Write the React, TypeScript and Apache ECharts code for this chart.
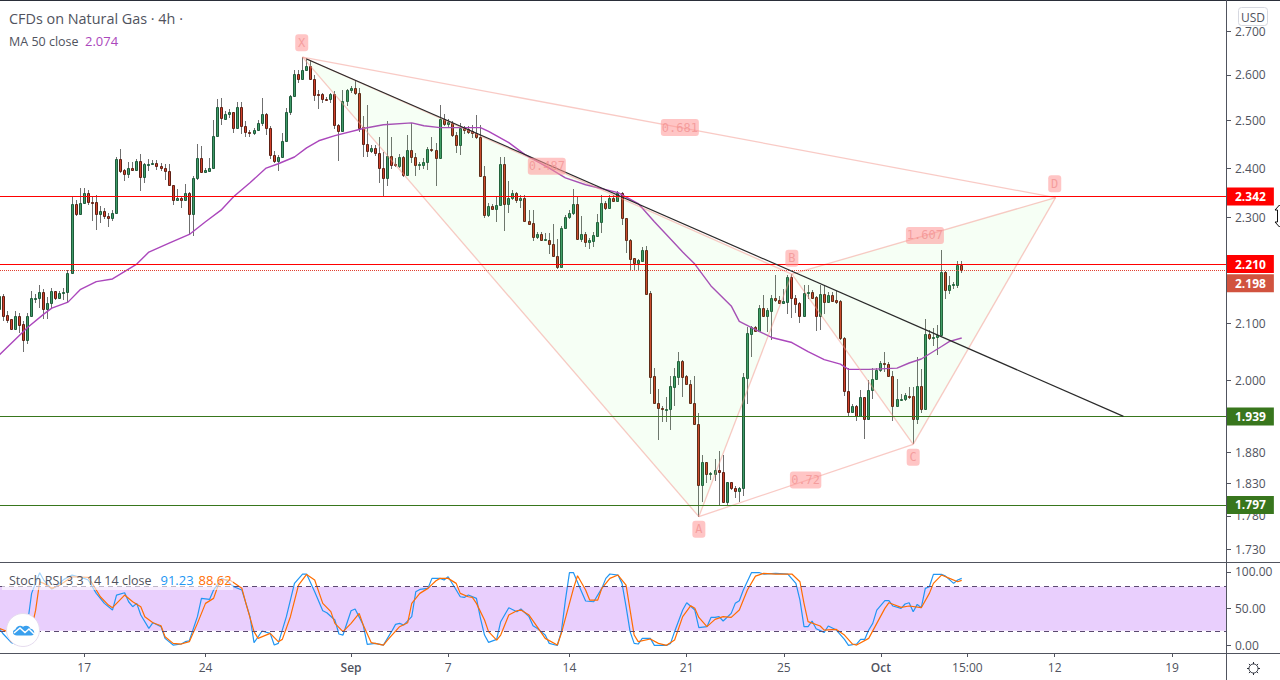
import { useEffect, useRef } from "react";
import * as echarts from "echarts";

const FONT = "'Open Sans', sans-serif";
const TEXT = "#50535e";

// one row per 4h bar: open, high, low, close
const candles: number[][] = [
  [2.126,2.154,2.120,2.151],[2.151,2.154,2.105,2.114],[2.115,2.123,2.101,2.106],[2.108,2.109,2.089,2.091],
  [2.091,2.123,2.089,2.113],[2.113,2.120,2.083,2.098],[2.100,2.105,2.050,2.070],[2.070,2.120,2.064,2.114],
  [2.114,2.160,2.111,2.146],[2.146,2.154,2.137,2.147],[2.146,2.171,2.129,2.157],[2.157,2.163,2.108,2.126],
  [2.126,2.148,2.108,2.137],[2.137,2.165,2.126,2.159],[2.159,2.160,2.142,2.146],[2.146,2.159,2.145,2.155],
  [2.155,2.165,2.142,2.157],[2.157,2.199,2.139,2.193],[2.193,2.341,2.191,2.328],[2.328,2.336,2.303,2.307],
  [2.307,2.359,2.306,2.329],[2.329,2.359,2.328,2.349],[2.349,2.355,2.326,2.331],[2.332,2.343,2.293,2.331],
  [2.332,2.346,2.276,2.307],[2.307,2.323,2.289,2.313],[2.313,2.319,2.297,2.303],[2.303,2.309,2.281,2.299],
  [2.299,2.315,2.293,2.309],[2.309,2.424,2.308,2.419],[2.418,2.440,2.389,2.395],[2.396,2.399,2.373,2.387],
  [2.387,2.413,2.379,2.401],[2.401,2.413,2.396,2.396],[2.397,2.418,2.395,2.414],[2.414,2.430,2.353,2.381],
  [2.381,2.410,2.369,2.408],[2.408,2.418,2.395,2.409],[2.408,2.417,2.407,2.411],[2.411,2.417,2.396,2.404],
  [2.404,2.410,2.395,2.401],[2.401,2.408,2.376,2.395],[2.395,2.408,2.364,2.365],[2.365,2.365,2.326,2.335],
  [2.335,2.357,2.333,2.340],[2.339,2.343,2.319,2.335],[2.335,2.368,2.333,2.349],[2.349,2.351,2.267,2.307],
  [2.307,2.383,2.264,2.379],[2.379,2.450,2.376,2.421],[2.421,2.445,2.389,2.393],[2.393,2.400,2.389,2.396],
  [2.395,2.421,2.393,2.401],[2.401,2.501,2.400,2.468],[2.468,2.546,2.467,2.530],[2.530,2.549,2.491,2.506],
  [2.504,2.520,2.502,2.514],[2.514,2.524,2.506,2.519],[2.519,2.519,2.474,2.484],[2.484,2.540,2.481,2.530],
  [2.530,2.540,2.472,2.488],[2.488,2.499,2.465,2.475],[2.476,2.479,2.466,2.474],[2.473,2.484,2.470,2.480],
  [2.480,2.501,2.477,2.494],[2.494,2.549,2.488,2.514],[2.514,2.516,2.470,2.484],[2.484,2.489,2.418,2.428],
  [2.428,2.435,2.410,2.414],[2.414,2.427,2.395,2.423],[2.423,2.474,2.421,2.457],[2.457,2.528,2.456,2.519],
  [2.519,2.556,2.513,2.554],[2.554,2.610,2.553,2.602],[2.602,2.610,2.582,2.592],[2.592,2.640,2.591,2.611],
  [2.611,2.638,2.609,2.620],[2.620,2.634,2.591,2.592],[2.592,2.599,2.542,2.555],[2.557,2.567,2.524,2.556],
  [2.558,2.560,2.537,2.546],[2.547,2.551,2.542,2.546],[2.546,2.560,2.537,2.558],[2.558,2.564,2.481,2.491],
  [2.491,2.492,2.414,2.477],[2.477,2.566,2.475,2.543],[2.543,2.569,2.531,2.567],[2.566,2.575,2.560,2.572],
  [2.572,2.588,2.556,2.560],[2.560,2.571,2.475,2.485],[2.486,2.509,2.422,2.450],[2.450,2.533,2.424,2.435],
  [2.435,2.449,2.431,2.442],[2.442,2.449,2.426,2.431],[2.431,2.465,2.369,2.401],[2.401,2.433,2.343,2.379],
  [2.379,2.499,2.363,2.425],[2.425,2.465,2.399,2.407],[2.409,2.420,2.403,2.406],[2.404,2.430,2.401,2.423],
  [2.423,2.426,2.381,2.385],[2.385,2.470,2.383,2.438],[2.438,2.495,2.410,2.424],[2.424,2.431,2.383,2.406],
  [2.406,2.413,2.396,2.408],[2.406,2.420,2.399,2.412],[2.412,2.444,2.396,2.440],[2.440,2.465,2.433,2.437],
  [2.438,2.452,2.363,2.420],[2.420,2.533,2.419,2.504],[2.504,2.515,2.489,2.493],[2.493,2.504,2.484,2.496],
  [2.495,2.499,2.465,2.469],[2.470,2.475,2.431,2.448],[2.448,2.495,2.428,2.484],[2.484,2.489,2.472,2.479],
  [2.481,2.489,2.471,2.475],[2.477,2.491,2.463,2.474],[2.474,2.511,2.461,2.465],[2.466,2.491,2.383,2.383],
  [2.383,2.404,2.299,2.305],[2.305,2.329,2.301,2.324],[2.324,2.328,2.315,2.317],[2.317,2.343,2.291,2.326],
  [2.326,2.422,2.323,2.409],[2.409,2.423,2.274,2.327],[2.327,2.373,2.309,2.340],[2.340,2.356,2.336,2.349],
  [2.349,2.351,2.329,2.335],[2.335,2.346,2.319,2.340],[2.340,2.346,2.293,2.293],[2.293,2.316,2.287,2.287],
  [2.289,2.315,2.255,2.262],[2.262,2.271,2.259,2.267],[2.267,2.271,2.256,2.257],[2.257,2.269,2.256,2.258],
  [2.257,2.269,2.229,2.248],[2.248,2.287,2.225,2.226],[2.226,2.258,2.201,2.205],[2.205,2.283,2.204,2.280],
  [2.280,2.306,2.277,2.301],[2.301,2.316,2.297,2.309],[2.309,2.357,2.306,2.327],[2.327,2.343,2.257,2.259],
  [2.259,2.304,2.252,2.267],[2.267,2.271,2.242,2.253],[2.253,2.261,2.239,2.257],[2.255,2.271,2.242,2.265],
  [2.264,2.308,2.263,2.291],[2.291,2.346,2.269,2.329],[2.329,2.333,2.316,2.319],[2.319,2.346,2.317,2.340],
  [2.340,2.346,2.331,2.333],[2.333,2.353,2.331,2.349],[2.349,2.351,2.285,2.299],[2.299,2.299,2.232,2.256],
  [2.257,2.259,2.199,2.220],[2.221,2.222,2.198,2.212],[2.212,2.220,2.198,2.218],[2.215,2.242,2.214,2.236],
  [2.236,2.244,2.152,2.154],[2.155,2.160,1.976,2.006],[2.007,2.022,1.960,1.962],[1.962,1.986,1.900,1.953],
  [1.953,1.956,1.930,1.951],[1.951,1.972,1.929,1.952],[1.952,2.007,1.916,1.990],[1.989,2.021,1.957,2.007],
  [2.006,2.049,1.992,2.034],[2.034,2.036,1.971,2.006],[2.007,2.009,1.992,1.993],[1.994,2.000,1.960,1.962],
  [1.962,2.007,1.925,1.926],[1.927,1.944,1.779,1.828],[1.828,1.875,1.802,1.864],[1.864,1.865,1.831,1.846],
  [1.846,1.849,1.836,1.847],[1.846,1.869,1.834,1.852],[1.852,1.882,1.795,1.848],[1.848,1.875,1.800,1.802],
  [1.802,1.833,1.797,1.832],[1.832,1.833,1.820,1.823],[1.824,1.827,1.808,1.818],[1.818,1.825,1.802,1.823],
  [1.823,2.012,1.811,2.005],[2.004,2.094,1.960,2.083],[2.082,2.096,2.041,2.093],[2.093,2.096,2.084,2.086],
  [2.086,2.134,2.085,2.128],[2.128,2.152,2.113,2.114],[2.113,2.129,2.084,2.124],[2.123,2.152,2.071,2.146],
  [2.146,2.190,2.139,2.142],[2.142,2.150,2.136,2.138],[2.138,2.164,2.136,2.141],[2.140,2.190,2.117,2.186],
  [2.186,2.191,2.110,2.146],[2.146,2.152,2.120,2.136],[2.137,2.139,2.101,2.114],[2.114,2.170,2.113,2.156],
  [2.155,2.170,2.145,2.158],[2.158,2.162,2.144,2.147],[2.148,2.150,2.086,2.114],[2.114,2.170,2.088,2.154],
  [2.154,2.170,2.117,2.140],[2.140,2.157,2.137,2.152],[2.152,2.157,2.139,2.141],[2.142,2.160,2.135,2.140],
  [2.141,2.142,2.071,2.074],[2.074,2.076,1.973,1.982],[1.982,2.022,1.939,1.946],[1.946,1.960,1.944,1.956],
  [1.956,1.958,1.932,1.939],[1.939,1.983,1.938,1.971],[1.971,1.972,1.901,1.934],[1.934,2.000,1.934,1.984],
  [1.984,2.021,1.969,2.003],[2.002,2.021,2.000,2.017],[2.017,2.033,2.015,2.030],[2.030,2.049,2.015,2.028],
  [2.028,2.031,2.006,2.008],[2.008,2.016,1.932,1.956],[1.956,2.003,1.955,1.969],[1.968,1.976,1.964,1.969],
  [1.968,1.979,1.964,1.975],[1.974,1.989,1.969,1.972],[1.973,1.989,1.893,1.935],[1.935,2.040,1.926,1.990],
  [1.990,2.019,1.945,1.951],[1.951,2.108,1.951,2.082],[2.082,2.089,2.071,2.074],[2.074,2.092,2.059,2.076],
  [2.075,2.098,2.044,2.079],[2.079,2.237,2.077,2.196],[2.196,2.197,2.145,2.162],[2.162,2.187,2.154,2.170],
  [2.170,2.177,2.163,2.172],[2.171,2.215,2.165,2.209],[2.209,2.216,2.194,2.198],
];

// moving average, read at its bends: [bar, price]
const maPoints: number[][] = [
  [0,2.044],[7,2.093],[11,2.117],[13,2.128],[17,2.139],[20,2.162],[24,2.177],[28,2.182],[34,2.210],[37,2.233],
  [42,2.250],[47,2.267],[51,2.292],[55,2.316],[58,2.342],[62,2.370],[66,2.400],[69,2.409],[73,2.423],[76,2.442],
  [79,2.457],[83,2.468],[90,2.483],[95,2.491],[102,2.495],[105,2.489],[109,2.485],[119,2.485],[121,2.477],
  [126,2.453],[130,2.428],[136,2.400],[140,2.380],[145,2.366],[153,2.350],[158,2.328],[162,2.292],[166,2.258],
  [169,2.233],[172,2.210],[176,2.169],[181,2.132],[183,2.104],[187,2.089],[191,2.075],[196,2.066],[200,2.050],
  [204,2.036],[208,2.028],[210,2.019],[215,2.019],[222,2.021],[225,2.030],[228,2.037],[233,2.059],[235,2.068],[238,2.074],
];

// Stoch RSI %K, [bar, value]
const kPoints: number[][] = [
  [0,23.3],[1,15.6],[3,3.8],[4,2],[7,30.1],[8,70.9],[10,99],[11,89],[13,76.8],[14,80],[16,89.9],[18,95.8],[21,91.3],
  [22,89],[24,70.9],[26,57.3],[28,48.2],[29,68.6],[31,71.8],[32,59.5],[33,52.8],[34,57.3],[35,41.4],[37,23.3],[38,31],
  [40,25.6],[41,9.7],[43,0.6],[45,2],[46,5.2],[47,6.5],[49,39.2],[50,64.1],[52,62.7],[53,75.4],[55,91.3],[56,89],
  [58,79.9],[60,75.4],[62,39.2],[63,3.8],[65,19.7],[67,16.5],[68,0.6],[69,2.9],[71,39.2],[73,84.5],[75,97.2],[76,97.2],
  [78,73.1],[80,47.3],[81,44.6],[83,34.6],[84,15.6],[85,14.2],[87,47.3],[88,49.6],[90,27.8],[91,1.5],[93,2.9],[95,0.6],
  [97,18.8],[98,28.7],[99,30.1],[100,27.8],[102,39.2],[103,73.1],[104,76.3],[106,77.7],[107,91.3],[109,91.3],[110,89],
  [111,93.5],[113,75.4],[114,66.3],[115,65.4],[116,68.6],[118,64.1],[119,36.9],[120,14.2],[121,4.3],[123,8.3],[124,32.4],
  [126,51.4],[128,45.9],[129,49.6],[131,39.2],[132,26.9],[133,23.3],[135,14.2],[136,2.9],[138,0],[139,18.8],[140,61.8],
  [141,99],[142,99],[144,73.1],[145,60.5],[147,59.5],[149,77.7],[150,91.3],[151,97.2],[153,95.8],[154,84.5],[155,52.8],
  [156,18.8],[157,2.9],[158,2],[159,9.7],[161,9.7],[162,0.2],[165,0.2],[166,2.9],[167,18.8],[169,48.2],[170,58.2],
  [172,48.2],[173,24.2],[175,25.6],[176,38.2],[177,38.2],[178,39.2],[179,33.3],[181,43.7],[182,57.3],[183,60.9],[184,75.4],
  [186,99],[188,99],[189,97.2],[192,98.1],[195,97.2],[197,84.5],[198,61.8],[199,25.6],[200,25.6],[201,33.3],[202,22.8],
  [204,17.9],[205,26.5],[207,21],[209,8.3],[210,0.2],[212,2],[213,8.3],[214,8.3],[215,21],[216,30.1],[217,48.2],[219,60.9],
  [220,60.9],[221,53.7],[223,50.5],[224,56.4],[225,58.2],[226,45.9],[227,55.9],[228,51.4],[229,77.7],[230,79.9],[231,96.7],
  [233,96.7],[234,94.4],[236,84.5],[237,89],[238,91.23],
];

// Stoch RSI %D, [bar, value]
const dPoints: number[][] = [
  [0,23.3],[2,18.8],[3,5.2],[8,23.3],[9,48],[10,86.7],[11,84.5],[13,77.7],[15,82.2],[18,93.5],[22,92.6],[23,84.5],[25,66.3],
  [27,55],[28,51.4],[31,68.6],[33,59.5],[35,52.8],[36,39.2],[38,31],[40,26.9],[41,12],[43,2.9],[45,2],[47,5.2],[49,30.1],
  [51,57.3],[53,64.1],[54,79.9],[55,89.9],[57,89],[60,77.7],[61,57.3],[63,18.8],[64,9.7],[67,16.5],[69,5.2],[70,8.3],[72,39.2],
  [74,82.2],[76,96.7],[78,89],[80,57.3],[82,46],[83,30.1],[85,18.8],[87,30.1],[89,43.7],[90,27.8],[92,3.8],[95,0.6],[96,7.4],
  [99,25.6],[101,31],[102,57.3],[104,70.9],[106,77.7],[108,88.1],[109,91.3],[111,91.3],[113,84.5],[114,70.9],[116,66.3],
  [117,65.4],[118,57.3],[120,34.6],[121,18.8],[123,7.4],[124,14.2],[126,41.4],[128,47.3],[129,48.2],[131,41.4],[133,25.6],
  [135,9.7],[138,0.6],[139,16.5],[142,77.7],[143,94.9],[145,75.4],[146,61.8],[148,61.8],[149,77.7],[151,91.3],[153,95.8],
  [155,82.2],[156,48.2],[157,14.2],[158,5.2],[161,8.8],[163,2.9],[165,0.2],[167,7.4],[169,39.2],[171,54.1],[172,50.5],[173,38.2],
  [175,25.6],[177,35.5],[179,39.2],[181,38.2],[183,48.2],[185,75.4],[187,94.4],[189,98.1],[192,97.2],[196,97.2],[198,86.7],
  [199,57.3],[200,32.4],[203,26.5],[204,21],[207,21.9],[209,14.2],[211,2],[212,0.6],[215,9.7],[217,30.1],[219,50.5],[220,58.2],
  [223,51.8],[225,53.7],[228,51.4],[230,70.9],[231,84.5],[233,95.8],[235,91.3],[237,86.7],[238,88.62],
];

// XABCD pattern: [bar, price]
const patternX = [75, 2.64];
const patternA = [173, 1.779];
const patternB = [196, 2.191];
const patternC = [226, 1.893];
const patternD = [261.2, 2.34];
const patternFills = [[patternX, patternA, patternB], [patternB, patternC, patternD]];
const patternEdges = [
  [patternX, patternA], [patternA, patternB], [patternB, patternC], [patternC, patternD],
  [patternX, patternB], [patternA, patternC], [patternB, patternD], [patternX, patternD],
];
// [bar, price, text]
const patternTags: (number | string)[][] = [
  [74.8, 2.673, "X"], [173, 1.76, "A"], [196, 2.221, "B"], [226, 1.872, "C"], [261, 2.368, "D"],
  [168.3, 2.485, "0.681"], [135.4, 2.404, "0.487"], [228.9, 2.265, "1.607"], [199.4, 1.836, "0.72"],
];

const trendLine = [[76, 2.636], [278, 1.939]];

const priceTicks = [1.73, 1.78, 1.83, 1.88, 2.0, 2.1, 2.3, 2.4, 2.5, 2.6, 2.7];
const stochTicks = [0, 50, 100];
const dateTicks = [21, 51, 87, 111, 141, 170, 194, 218, 239.4, 261, 290];
const dateLabels = ["17", "24", "Sep", "7", "14", "21", "25", "Oct", "15:00", "12", "19"];

const levels = [
  { price: 2.342, line: "#ff0000", box: "#ff0000", type: "solid", offset: 0 },
  { price: 2.21, line: "#ff0000", box: "#ff0000", type: "solid", offset: 0 },
  { price: 2.198, line: "#e04030", box: "#d1533f", type: "dotted", offset: 12.7 },
  { price: 1.939, line: "#38761d", box: "#38761d", type: "solid", offset: 0 },
  { price: 1.797, line: "#38761d", box: "#38761d", type: "solid", offset: 0 },
];

// bar range that fits the pane, the first bar being cut by the left edge
const FIRST_SLOT = 0.185;
const LAST_SLOT = 303.6;
const logged = (pts: number[][]) => pts.map(([x, p]) => [x, Math.log(p)]);

echarts.graphic.registerShape(
  "tvCloud",
  echarts.graphic.extendPath(
    "M17 635.5C12.5 635.5 11.5 630.5 15.5 629.2C16.5 625.8 20.5 624.6 23 626.8C25.8 624.8 29.6 625.8 30.4 628.8C35 629 35.8 635.5 31 635.5Z",
    {}
  )
);

function renderCandle(_: any, api: any) {
  const [px, yo] = api.coord([api.value(0), api.value(1)]);
  const yh = api.coord([api.value(0), api.value(2)])[1];
  const yl = api.coord([api.value(0), api.value(3)])[1];
  const yc = api.coord([api.value(0), api.value(4)])[1];
  const up = api.value(4) >= api.value(1);
  const x = Math.floor(px) + 0.5;
  const top = Math.round(Math.min(yo, yc)) + 0.5;
  const bottom = Math.round(Math.max(yo, yc)) + 0.5;
  return {
    type: "group",
    children: [
      {
        type: "line",
        shape: { x1: x, y1: Math.round(yh), x2: x, y2: Math.round(yl) },
        style: { stroke: "#6f6f6f", lineWidth: 1 },
      },
      {
        type: "rect",
        shape: { x: x - 1, y: top, width: 2, height: Math.max(bottom - top, 1) },
        style: {
          fill: up ? "#3f9a68" : "#d1402a",
          stroke: up ? "#1f5a3a" : "#5e2015",
          lineWidth: 1,
        },
      },
    ],
  };
}

function renderFill(_: any, api: any) {
  const tri = patternFills[api.value(0)];
  return {
    type: "polygon",
    shape: { points: tri.map(([x, p]) => api.coord([x, Math.log(p)])) },
    style: { fill: "rgba(100,255,80,0.06)", stroke: "none" },
  };
}

function renderTag(_: any, api: any) {
  const tag = patternTags[api.value(2)];
  const text = String(tag[2]);
  const [x, y] = api.coord([tag[0], Math.log(Number(tag[1]))]);
  const w = text.length === 1 ? 13 : 5 + text.length * 6.6;
  return {
    type: "group",
    children: [
      {
        type: "rect",
        shape: { x: x - w / 2, y: y - 8.5, width: w, height: 17, r: 3 },
        style: { fill: "rgba(255,150,150,0.55)" },
      },
      {
        type: "text",
        style: {
          text,
          x,
          y,
          align: "center",
          verticalAlign: "middle",
          fill: "rgba(240,140,140,0.7)",
          font: "12px 'DejaVu Sans Mono', monospace",
        },
      },
    ],
  };
}

function chartText(text: string, x: number, y: number, fill: string, fontSize = 13, align = "left") {
  return {
    type: "text",
    z: 120,
    x,
    y,
    style: { text, fill, font: `${fontSize}px ${FONT}`, align, verticalAlign: "middle" },
  };
}

function frameLine(x1: number, y1: number, x2: number, y2: number, stroke = TEXT) {
  return { type: "line", z: 110, shape: { x1, y1, x2, y2 }, style: { stroke, lineWidth: 1 } };
}

function gearRays() {
  const rays = [];
  for (let n = 0; n < 8; n++) {
    const a = (n * Math.PI) / 4;
    rays.push(
      frameLine(
        1253.5 + 4.5 * Math.cos(a),
        668.5 + 4.5 * Math.sin(a),
        1253.5 + 6.5 * Math.cos(a),
        668.5 + 6.5 * Math.sin(a),
        "#2a2e39"
      )
    );
  }
  return rays;
}

function App() {
  const chartRef = useRef<HTMLDivElement>(null);

  useEffect(() => {
    document.body.style.margin = "0";
    const myChart = echarts.init(chartRef.current, null, { renderer: "svg" });

    const option: any = {
      animation: false,
      backgroundColor: "#ffffff",
      grid: [
        { left: 0, top: 1, width: 1227, height: 561 },
        { left: 0, top: 563, width: 1227, height: 90 },
      ],
      xAxis: [
        { type: "value", gridIndex: 0, min: FIRST_SLOT, max: LAST_SLOT, show: false, splitLine: { show: false } },
        {
          type: "value",
          gridIndex: 1,
          min: FIRST_SLOT,
          max: LAST_SLOT,
          splitLine: { show: false },
          axisLine: { show: false, onZero: false },
          axisTick: { customValues: dateTicks, length: 4, lineStyle: { color: TEXT } },
          axisLabel: {
            customValues: dateTicks,
            margin: 8,
            color: TEXT,
            fontFamily: FONT,
            fontSize: 12,
            formatter: (v: number) => {
              const label = dateLabels[dateTicks.indexOf(v)];
              return label === "Sep" || label === "Oct" ? `{b|${label}}` : label;
            },
            rich: { b: { fontWeight: 600, fontFamily: FONT, fontSize: 12, color: TEXT } },
          },
        },
      ],
      yAxis: [
        {
          type: "value",
          gridIndex: 0,
          position: "right",
          min: Math.log(1.711),
          max: Math.log(2.7705),
          splitLine: { show: false },
          axisLine: { show: false, onZero: false },
          axisTick: { show: true, customValues: priceTicks.map(Math.log), length: 4, lineStyle: { color: TEXT } },
          axisLabel: {
            customValues: priceTicks.map(Math.log),
            margin: 8,
            color: TEXT,
            fontFamily: FONT,
            fontSize: 12,
            formatter: (v: number) => Math.exp(v).toFixed(3),
          },
        },
        {
          type: "value",
          gridIndex: 1,
          position: "right",
          min: -10.2,
          max: 112.2,
          splitLine: { show: false },
          axisLine: { show: false, onZero: false },
          axisTick: { show: true, customValues: stochTicks, length: 4, lineStyle: { color: TEXT } },
          axisLabel: {
            customValues: stochTicks,
            margin: 8,
            color: TEXT,
            fontFamily: FONT,
            fontSize: 12,
            formatter: (v: number) => v.toFixed(2),
          },
        },
      ],
      series: [
        {
          type: "custom",
          name: "CFDs on Natural Gas",
          xAxisIndex: 0,
          yAxisIndex: 0,
          clip: true,
          z: 2,
          renderItem: renderCandle,
          encode: { x: 0, y: [1, 2, 3, 4] },
          data: candles.map(([o, h, l, c], i) => [i, Math.log(o), Math.log(h), Math.log(l), Math.log(c)]),
        },
        {
          type: "line",
          name: "MA 50 close",
          xAxisIndex: 0,
          yAxisIndex: 0,
          z: 3,
          showSymbol: false,
          clip: true,
          lineStyle: { color: "#ab47bc", width: 1.4 },
          data: logged(maPoints),
          markLine: {
            silent: true,
            symbol: "none",
            animation: false,
            precision: 8,
            data: levels.map((l) => ({
              yAxis: Math.log(l.price),
              lineStyle: { color: l.line, type: l.type, width: 1 },
              label: {
                show: true,
                position: "end",
                distance: 0,
                formatter: l.price.toFixed(3),
                offset: [0, l.offset],
                color: "#ffffff",
                backgroundColor: l.box,
                fontFamily: FONT,
                fontSize: 12,
                fontWeight: "bold",
                padding: [3, 8, 3, 8],
              },
            })),
          },
        },
        {
          type: "custom",
          name: "Pattern fill",
          xAxisIndex: 0,
          yAxisIndex: 0,
          z: 4,
          renderItem: renderFill,
          data: patternFills.map((_, i) => [i, 0]),
        },
        ...patternEdges.map(([from, to]) => ({
          type: "line",
          xAxisIndex: 0,
          yAxisIndex: 0,
          z: 4,
          showSymbol: false,
          lineStyle: { color: "rgba(244,150,140,0.5)", width: 1.3 },
          data: logged([from, to]),
        })),
        {
          type: "line",
          name: "Trend",
          xAxisIndex: 0,
          yAxisIndex: 0,
          z: 5,
          showSymbol: false,
          lineStyle: { color: "#2a2a2a", width: 1.2 },
          data: logged(trendLine),
        },
        {
          type: "custom",
          name: "Pattern tags",
          xAxisIndex: 0,
          yAxisIndex: 0,
          z: 6,
          renderItem: renderTag,
          data: patternTags.map((t, i) => [t[0], Math.log(Number(t[1])), i]),
        },
        {
          type: "line",
          name: "%K",
          xAxisIndex: 1,
          yAxisIndex: 1,
          z: 3,
          showSymbol: false,
          clip: true,
          lineStyle: { color: "#2196f3", width: 1.2 },
          data: kPoints,
          markArea: {
            silent: true,
            itemStyle: { color: "#e9cffd" },
            data: [[{ yAxis: 80 }, { yAxis: 20 }]],
          },
          markLine: {
            silent: true,
            symbol: "none",
            animation: false,
            label: { show: false },
            lineStyle: { color: "#5b4a70", type: [5, 4], width: 1 },
            data: [{ yAxis: 80 }, { yAxis: 20 }],
          },
        },
        {
          type: "line",
          name: "%D",
          xAxisIndex: 1,
          yAxisIndex: 1,
          z: 4,
          showSymbol: false,
          clip: true,
          lineStyle: { color: "#ff6d00", width: 1.2 },
          data: dPoints,
        },
      ],
      graphic: [
        frameLine(0, 0.5, 1280, 0.5, "#2a2e39"),
        frameLine(0, 562.5, 1280, 562.5),
        frameLine(0, 653.5, 1280, 653.5),
        frameLine(1226.5, 0, 1226.5, 680),
        { type: "rect", z: 115, shape: { x: 2, y: 571, width: 231, height: 19 }, style: { fill: "rgba(255,255,255,0.6)" } },
        chartText("CFDs on Natural Gas · 4h ·", 9, 18, TEXT, 14.4),
        chartText("MA 50 close", 9, 41, TEXT, 12.5),
        chartText("2.074", 85, 41, "#ab47bc"),
        chartText("Stoch RSI 3 3 14 14 close", 9, 580, TEXT, 12.5),
        chartText("91.23", 160.5, 580, "#2196f3"),
        chartText("88.62", 198.5, 580, "#ff6d00"),
        {
          type: "rect",
          z: 115,
          shape: { x: 1238.5, y: 7.5, width: 29, height: 18, r: 3 },
          style: { fill: "#ffffff", stroke: "#d6d8e0", lineWidth: 1 },
        },
        chartText("USD", 1253, 17, TEXT, 12, "center"),
        // gear icon
        { type: "circle", z: 110, shape: { cx: 1253.5, cy: 668.5, r: 4.5 }, style: { fill: "none", stroke: "#2a2e39", lineWidth: 1 } },
        ...gearRays(),
        // cursor
        {
          type: "polygon",
          z: 130,
          shape: { points: [[1279.5, 205], [1275, 210], [1277.5, 210], [1277.5, 222], [1275, 222], [1279.5, 227], [1284, 222], [1281.5, 222], [1281.5, 210], [1284, 210]] },
          style: { fill: "#ffffff", stroke: "#111111", lineWidth: 1 },
        },
        // watermark
        { type: "circle", z: 116, shape: { cx: 23, cy: 630, r: 16.5 }, style: { fill: "#ffffff", stroke: "#e6dcef", lineWidth: 1 } },
        { type: "tvCloud", z: 117, x: 0, y: 0, style: { fill: "#3aa0ee" } },
        {
          type: "polyline",
          z: 118,
          shape: { points: [[14, 633], [20, 628], [25, 632.5], [29, 629], [34, 634]] },
          style: { fill: "none", stroke: "#ffffff", lineWidth: 1.5 },
        },
      ],
    };

    myChart.setOption(option);
    return () => {
      myChart.dispose();
    };
  }, []);

  return <div ref={chartRef} style={{ position: "absolute", left: 0, top: 0, width: 1280, height: 680 }}></div>;
}

export default App;
